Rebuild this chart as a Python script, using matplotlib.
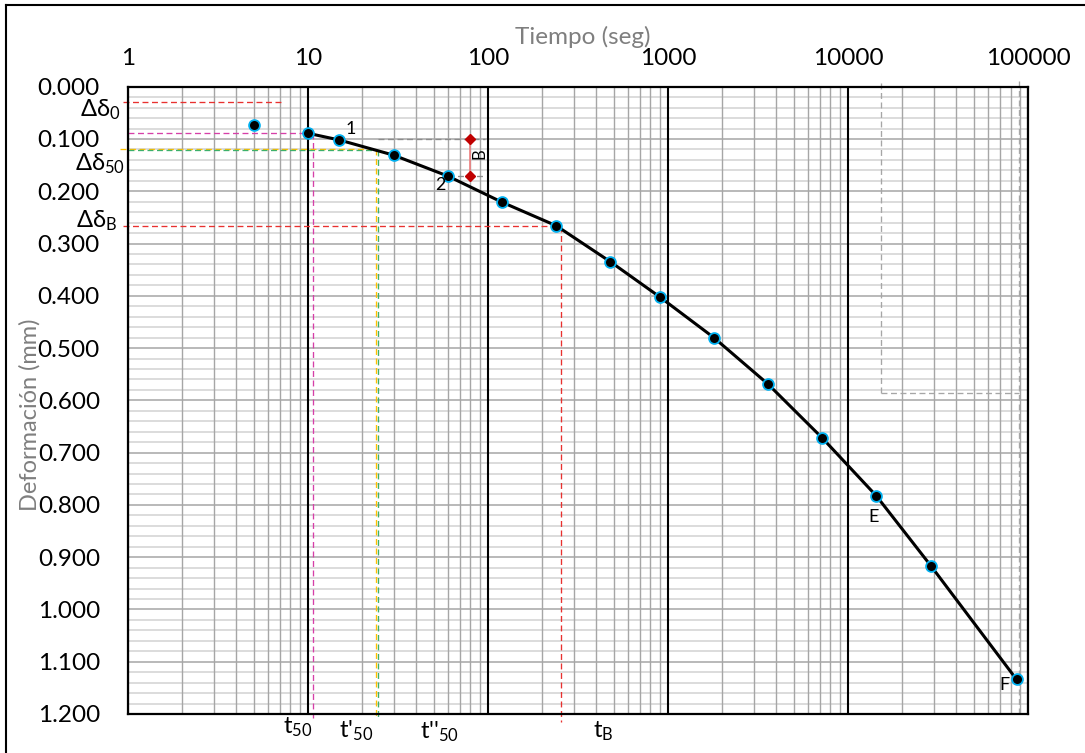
import numpy as np
import matplotlib
matplotlib.use("Agg")
import matplotlib.pyplot as plt
from matplotlib.lines import Line2D

plt.rcParams["font.family"] = ["Lato", "DejaVu Sans"]
plt.rcParams["mathtext.default"] = "regular"

# Consolidation reading: elapsed time (s) vs. settlement (mm)
time_s = [5, 10, 15, 30, 60, 120, 240, 480, 900, 1800, 3600, 7200, 14400, 28800, 86400]
deform_mm = [0.073, 0.089, 0.102, 0.131, 0.171, 0.221, 0.266, 0.335, 0.402,
             0.480, 0.569, 0.672, 0.783, 0.916, 1.134]

x_ticks = [1, 10, 100, 1000, 10000, 100000]
x_tick_labels = ["1", "10", "100", "1000", "10000", "100000"]
y_ticks = [0.0, 0.1, 0.2, 0.3, 0.4, 0.5, 0.6, 0.7, 0.8, 0.9, 1.0, 1.1, 1.2]
y_tick_labels = ["0.000", "0.100", "0.200", "0.300", "0.400", "0.500", "0.600",
                 "0.700", "0.800", "0.900", "1.000", "1.100", "1.200"]

# Construction values
delta_0 = 0.029
delta_10 = 0.089
delta_50 = 0.1197
delta_50_b = 0.121
delta_B = 0.266
t_50 = 10.7
t_50_p = 23.8
t_50_pb = 24.4
t_B = 255
b_time = 80
b_top, b_bottom = 0.100, 0.171
t_E_guide = 15300
t_F_guide = 89000
delta_E_guide = 0.586

W, H = 1085, 753
fig = plt.figure(figsize=(W / 100, H / 100), dpi=100)
ax = fig.add_axes([127.7 / W, 1 - 714 / H, (1028 - 127.7) / W, (714 - 86.7) / H])
ax.set_xscale("log")
ax.set_xlim(1, 100000)
ax.set_ylim(1.2, 0.0)

# grid
minor_x = [m * 10 ** e for e in range(0, 5) for m in range(2, 10)]
minor_y = [v / 100 for v in range(0, 121, 2) if v % 10 != 0]
for yv in minor_y:
    ax.axhline(yv, color="#D9D9D9", lw=1.3, zorder=1)
for yv in y_ticks:
    ax.axhline(yv, color="#A6A6A6", lw=1.1, zorder=1.1)
for xv in minor_x:
    ax.axvline(xv, color="#A6A6A6", lw=1.0, zorder=1.2)
for xv in x_ticks:
    ax.axvline(xv, color="black", lw=1.5, zorder=1.3)

ax.xaxis.tick_top()
ax.set_xticks(x_ticks)
ax.set_xticklabels(x_tick_labels)
ax.xaxis.set_minor_locator(matplotlib.ticker.NullLocator())
ax.set_yticks(y_ticks)
ax.set_yticklabels(y_tick_labels)
ax.tick_params(axis="both", length=0, labelsize=17.5, colors="black")
ax.tick_params(axis="x", pad=13)
ax.tick_params(axis="y", pad=20)
for s in ax.spines.values():
    s.set_linewidth(1.6)
    s.set_color("black")
    s.set_zorder(5)

dash = (0, (4.5, 2.7))
kw = dict(lw=0.95, linestyle=dash, clip_on=False, zorder=3)
# delta_0
ax.plot([0.94, 7.27], [delta_0, delta_0], color="#E8312F", **kw)
# t_50 from the 10 s reading
ax.plot([1.0, t_50], [delta_10, delta_10], color="#D63FA8", **kw)
ax.plot([t_50, t_50], [delta_10, 1.207], color="#D63FA8", **kw)
# t'_50
ax.plot([0.906, t_50_p], [delta_50, delta_50], color="#FFC000", **kw)
ax.plot([t_50_p, t_50_p], [delta_50, 1.208], color="#FFC000", **kw)
ax.plot([1.0, t_50_pb], [delta_50_b, delta_50_b], color="#3DB06B", **kw)
ax.plot([t_50_pb, t_50_pb], [delta_50_b, 1.21], color="#3DB06B", **kw)
# t_B
ax.plot([0.94, t_B], [delta_B, delta_B], color="#E8312F", **kw)
ax.plot([t_B, t_B], [delta_B, 1.215], color="#E8312F", **kw)
# B bracket guides
ax.plot([t_50_pb, 97], [b_top, b_top], color="#8C8C8C", **kw)
ax.plot([60, 97], [b_bottom, b_bottom], color="#8C8C8C", **kw)
ax.plot([b_time, b_time], [b_top, b_bottom], color="#F08080", lw=1.2, zorder=3)
ax.plot([b_time, b_time], [b_top, b_bottom], linestyle="none", marker="D",
        ms=5, color="#C00000", zorder=4)
ax.text(b_time * 1.12, (b_top + b_bottom) / 2 - 0.008, "B", rotation=90, fontsize=12,
        ha="center", va="center", zorder=4)
# end-of-test guides
ax.plot([t_E_guide, t_E_guide], [-0.008, delta_E_guide], color="#A6A6A6", **kw)
ax.plot([t_E_guide, t_F_guide], [delta_E_guide, delta_E_guide], color="#A6A6A6", **kw)
ax.plot([t_F_guide, t_F_guide], [-0.011, 1.2], color="#A6A6A6", **kw)

# curve and readings
ax.plot(time_s[1:], deform_mm[1:], color="black", lw=2.2, zorder=6,
        solid_capstyle="round", solid_joinstyle="round")
ax.plot(time_s, deform_mm, linestyle="none", marker="o", ms=7.8, mfc="black",
        mec="#00B0F0", mew=1.3, zorder=7, clip_on=False)

lab = dict(fontsize=13, ha="center", va="center", zorder=8)
ax.text(17.3, 0.081, "1", **lab)
ax.text(54.7, 0.188, "2", **lab)
ax.text(13960, 0.823, "E", **lab)
ax.text(73900, 1.145, "F", **lab)

# axis titles
fig.text(583 / W, 1 - 37 / H, "Tiempo (seg)", fontsize=17.5, color="#7F7F7F",
         ha="center", va="center")
fig.text(30 / W, 1 - 415 / H, "Deformación (mm)", fontsize=17, color="#7F7F7F",
         ha="center", va="center", rotation=90)

# construction labels
gl = dict(fontsize=17, color="black")
fig.text(120 / W, 1 - 116.7 / H, "Δδ$_0$", ha="right", va="baseline", **gl)
fig.text(125 / W, 1 - 170 / H, "Δδ$_{50}$", ha="right", va="baseline", **gl)
fig.text(117 / W, 1 - 227.7 / H, "Δδ$_B$", ha="right", va="baseline", **gl)
fig.text(283 / W, 1 - 733 / H, "t$_{50}$", ha="left", va="baseline", **gl)
fig.text(339 / W, 1 - 737 / H, "t'$_{50}$", ha="left", va="baseline", **gl)
fig.text(420 / W, 1 - 738 / H, "t''$_{50}$", ha="left", va="baseline", **gl)
fig.text(593 / W, 1 - 737 / H, "t$_B$", ha="left", va="baseline", **gl)

# chart frame
fig.add_artist(Line2D([6 / W, 6 / W], [0, 1 - 5 / H], transform=fig.transFigure,
                      color="black", lw=1.5))
fig.add_artist(Line2D([6 / W, 1], [1 - 5 / H, 1 - 5 / H], transform=fig.transFigure,
                      color="black", lw=1.5))

fig.savefig("out.png", dpi=100)
